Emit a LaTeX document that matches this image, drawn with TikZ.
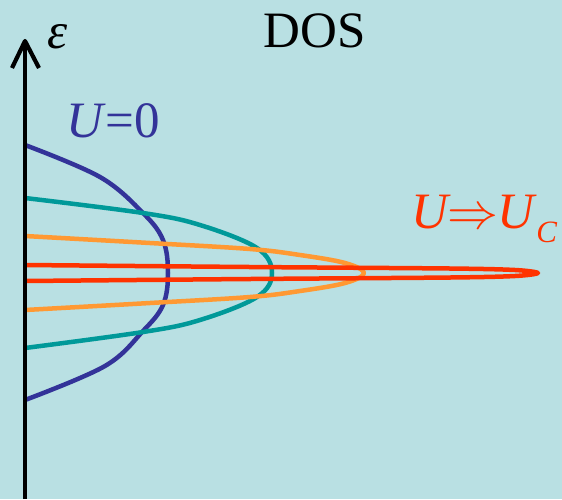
\RequirePackage{fix-cm}
\documentclass[tikz,border=0pt]{standalone}
\usepackage{fontspec}
\setmainfont{Liberation Serif}
\usepackage{tikz}
\usetikzlibrary{positioning}

\definecolor{bgcyan}{RGB}{185,224,227}
\definecolor{dosblue}{RGB}{51,51,153}
\definecolor{dosteal}{RGB}{0,153,153}
\definecolor{dosorange}{RGB}{255,153,51}
\definecolor{dosred}{RGB}{255,51,0}

\begin{document}
\begin{tikzpicture}[
            x=1pt, y=-1pt,
            doscurve/.style={
                line width=4.5pt, line join=round
            },
            biglabel/.style={
                font=\fontsize{51}{60}\selectfont,
                inner sep=0pt, anchor=base
            }
        ]
            \fill[bgcyan] (0,0) rectangle (562,499);
            \useasboundingbox (0,0) rectangle (562,499);

            % density of states for growing U
            \draw[doscurve, dosblue] plot[smooth, tension=0.6] coordinates {
                (25,145) (100,177) (143,213) (163,240) (168,273)
                (163,305) (143,331) (105,366) (25,400)};
            \draw[doscurve, dosteal] plot[smooth, tension=0.6] coordinates {
                (25,198) (143,213) (200,225) (257,248) (272,273)
                (257,297) (200,320) (143,332) (25,348)};
            \draw[doscurve, dosorange] plot[smooth, tension=0.6] coordinates {
                (25,236) (150,243) (250,249) (300,255) (345,263) (364,273)
                (345,283) (300,291) (250,297) (150,303) (25,310)};
            \draw[doscurve, dosred] plot[smooth, tension=0.5] coordinates {
                (25,265) (250,267) (450,268.5) (515,270) (538,273)
                (515,276) (450,277.5) (250,279) (25,281)};

            % energy axis
            \coordinate (axbot) at (25,499);
            \coordinate (axtop) at (25,41);
            \coordinate (barbl) at (12,68);
            \coordinate (barbr) at (39,68);
            \draw[line width=4.2pt] (axbot) -- (axtop);
            \draw[line width=4.2pt, line join=round] (barbl) -- (axtop) -- (barbr);

            \node[biglabel] (eps) at (58,48) {\textit{ε}};
            \node[biglabel] (dos) at (315,47) {DOS};
            \node[biglabel, anchor=base west, text=dosblue] (uzero) at (66,137) {\textit{U}=0};
            \node[biglabel, anchor=base west, text=dosred] (ucrit) at (411,228)
                {\textit{U}\kern-3pt$\Rightarrow$\kern-1pt\textit{U}\kern-1pt\raisebox{-14pt}{\fontsize{31}{34}\selectfont\textit{C}}};
        \end{tikzpicture}
\end{document}
